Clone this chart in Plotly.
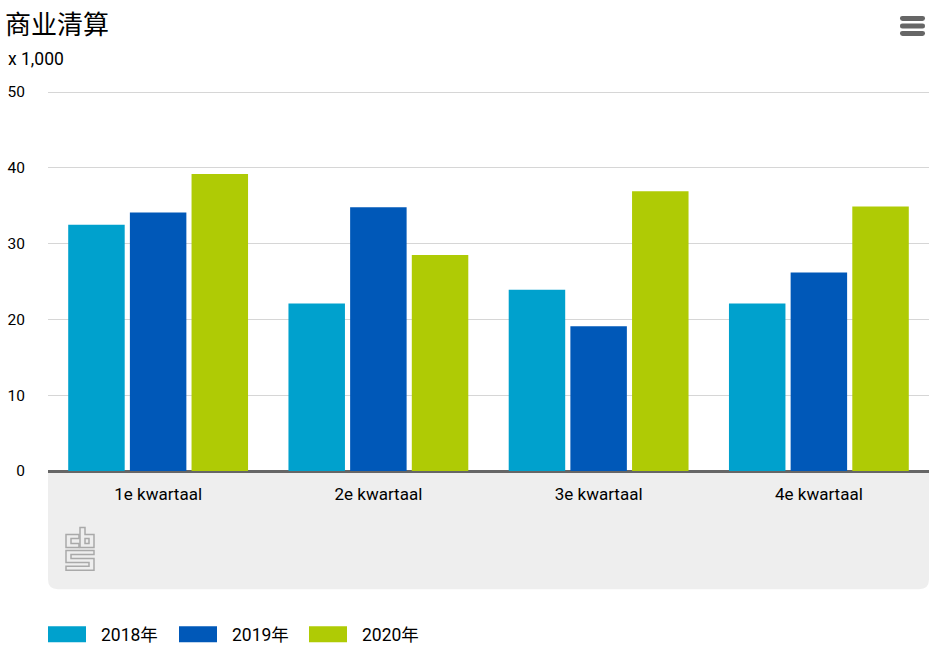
import plotly.graph_objects as go

W = 936
H = 652
LEFT, RIGHT, TOP, BOTTOM = 48, 929, 89, 471.5
FONT = "Roboto, 'Noto Sans CJK SC', sans-serif"

title = "商业清算"
unit_label = "x 1,000"
quarters = ["1e kwartaal", "2e kwartaal", "3e kwartaal", "4e kwartaal"]
series_names = ["2018年", "2019年", "2020年"]
values_2018 = [32.5, 22.1, 23.9, 22.1]
values_2019 = [34.1, 34.8, 19.1, 26.2]
values_2020 = [39.2, 28.5, 36.9, 34.9]
colors = ["#00a1cd", "#0058b8", "#afcb05"]
y_ticks = [0, 10, 20, 30, 40, 50]


# pixel position on the page -> paper coordinates
def px(x):
    return (x - LEFT) / (RIGHT - LEFT)


def py(y):
    return (BOTTOM - y) / (BOTTOM - TOP)


def poly(points):
    return "M " + " L ".join(f"{px(x):.5f},{py(y):.5f}" for x, y in points) + " Z"


def round_rect(x0, y0, x1, y1, r, top=True):
    # bottom corners always rounded, top ones only if top=True
    rt = r if top else 0
    path = f"M {px(x0 + rt):.5f},{py(y0):.5f} L {px(x1 - rt):.5f},{py(y0):.5f} "
    if top:
        path += f"Q {px(x1):.5f},{py(y0):.5f} {px(x1):.5f},{py(y0 + r):.5f} "
    path += f"L {px(x1):.5f},{py(y1 - r):.5f} Q {px(x1):.5f},{py(y1):.5f} {px(x1 - r):.5f},{py(y1):.5f} "
    path += f"L {px(x0 + r):.5f},{py(y1):.5f} Q {px(x0):.5f},{py(y1):.5f} {px(x0):.5f},{py(y1 - r):.5f} "
    path += f"L {px(x0):.5f},{py(y0 + rt):.5f} "
    if top:
        path += f"Q {px(x0):.5f},{py(y0):.5f} {px(x0 + r):.5f},{py(y0):.5f} "
    return path + "Z"


fig = go.Figure()
for name, vals, color in zip(series_names, [values_2018, values_2019, values_2020], colors):
    fig.add_trace(go.Bar(x=quarters, y=vals, name=name, marker=dict(color=color, line=dict(width=0))))

shapes = []
# grey panel behind the category labels
shapes.append(dict(type="path", xref="paper", yref="paper", layer="below",
                   path=round_rect(LEFT, BOTTOM, RIGHT, 590, 10, top=False),
                   fillcolor="#eeeeee", line=dict(width=0)))

# logo
logo_parts = [
    [(66, 535), (79, 535), (79, 539), (71, 539), (71, 544), (79, 544), (79, 548), (66, 548)],
    [(80, 528), (85, 528), (85, 535), (94, 535), (94, 548), (80, 548)],
    [(85, 539), (89, 539), (89, 544), (85, 544)],
    [(66, 551), (94, 551), (94, 555), (71, 555), (71, 559), (94, 559), (94, 571), (66, 571),
     (66, 567), (89, 567), (89, 563), (66, 563)],
]
for part in logo_parts:
    shapes.append(dict(type="path", xref="paper", yref="paper", path=poly(part),
                       line=dict(color="#a9a9a9", width=1.5)))

# menu icon
for y in [18.5, 26, 33.5]:
    shapes.append(dict(type="path", xref="paper", yref="paper",
                       path=round_rect(900, y - 2.5, 925, y + 2.5, 2.5),
                       fillcolor="#666666", line=dict(width=0)))

annotations = [
    dict(text=title, xref="paper", yref="paper", x=px(3), y=py(25), xanchor="left", yanchor="middle",
         showarrow=False, font=dict(size=26, color="#000000", family=FONT)),
    dict(text=unit_label, xref="paper", yref="paper", x=px(6), y=py(59), xanchor="left", yanchor="middle",
         showarrow=False, font=dict(size=17.5, color="#000000", family=FONT)),
]

# legend, drawn by hand for the wide swatches
legend_x = [48, 179, 309]
for name, color, x in zip(series_names, colors, legend_x):
    shapes.append(dict(type="rect", xref="paper", yref="paper", x0=px(x), x1=px(x + 38),
                       y0=py(627), y1=py(643), fillcolor=color, line=dict(width=0)))
    annotations.append(dict(text=name, xref="paper", yref="paper", x=px(x + 51), y=py(636),
                            xanchor="left", yanchor="middle", showarrow=False,
                            font=dict(size=17.5, color="#000000", family=FONT)))

fig.update_layout(
    width=W, height=H,
    margin=dict(l=LEFT, r=W - RIGHT, t=TOP, b=H - BOTTOM, pad=0),
    paper_bgcolor="white", plot_bgcolor="white",
    barmode="group", bargap=0.16, bargroupgap=0.084,
    showlegend=False,
    font=dict(family=FONT, size=15, color="#000000"),
    shapes=shapes, annotations=annotations,
)
fig.update_xaxes(showgrid=False, showline=False,
                 ticks="outside", ticklen=8, tickcolor="rgba(0,0,0,0)", automargin=False,
                 tickfont=dict(size=17, color="#000000"))
# range runs just past 50 so plotly keeps the top gridline
fig.update_yaxes(range=[0, 50.4], tickvals=y_ticks, showgrid=True, gridcolor="#d6d6d6", gridwidth=1,
                 zeroline=True, zerolinecolor="#666666", zerolinewidth=3,
                 showline=False, ticks="outside", ticklen=19, automargin=False,
                 tickcolor="rgba(0,0,0,0)", tickfont=dict(size=15.5, color="#000000"))

fig.write_html("out.html", config=dict(displayModeBar=False),
               post_script="document.body.style.margin='0';")
